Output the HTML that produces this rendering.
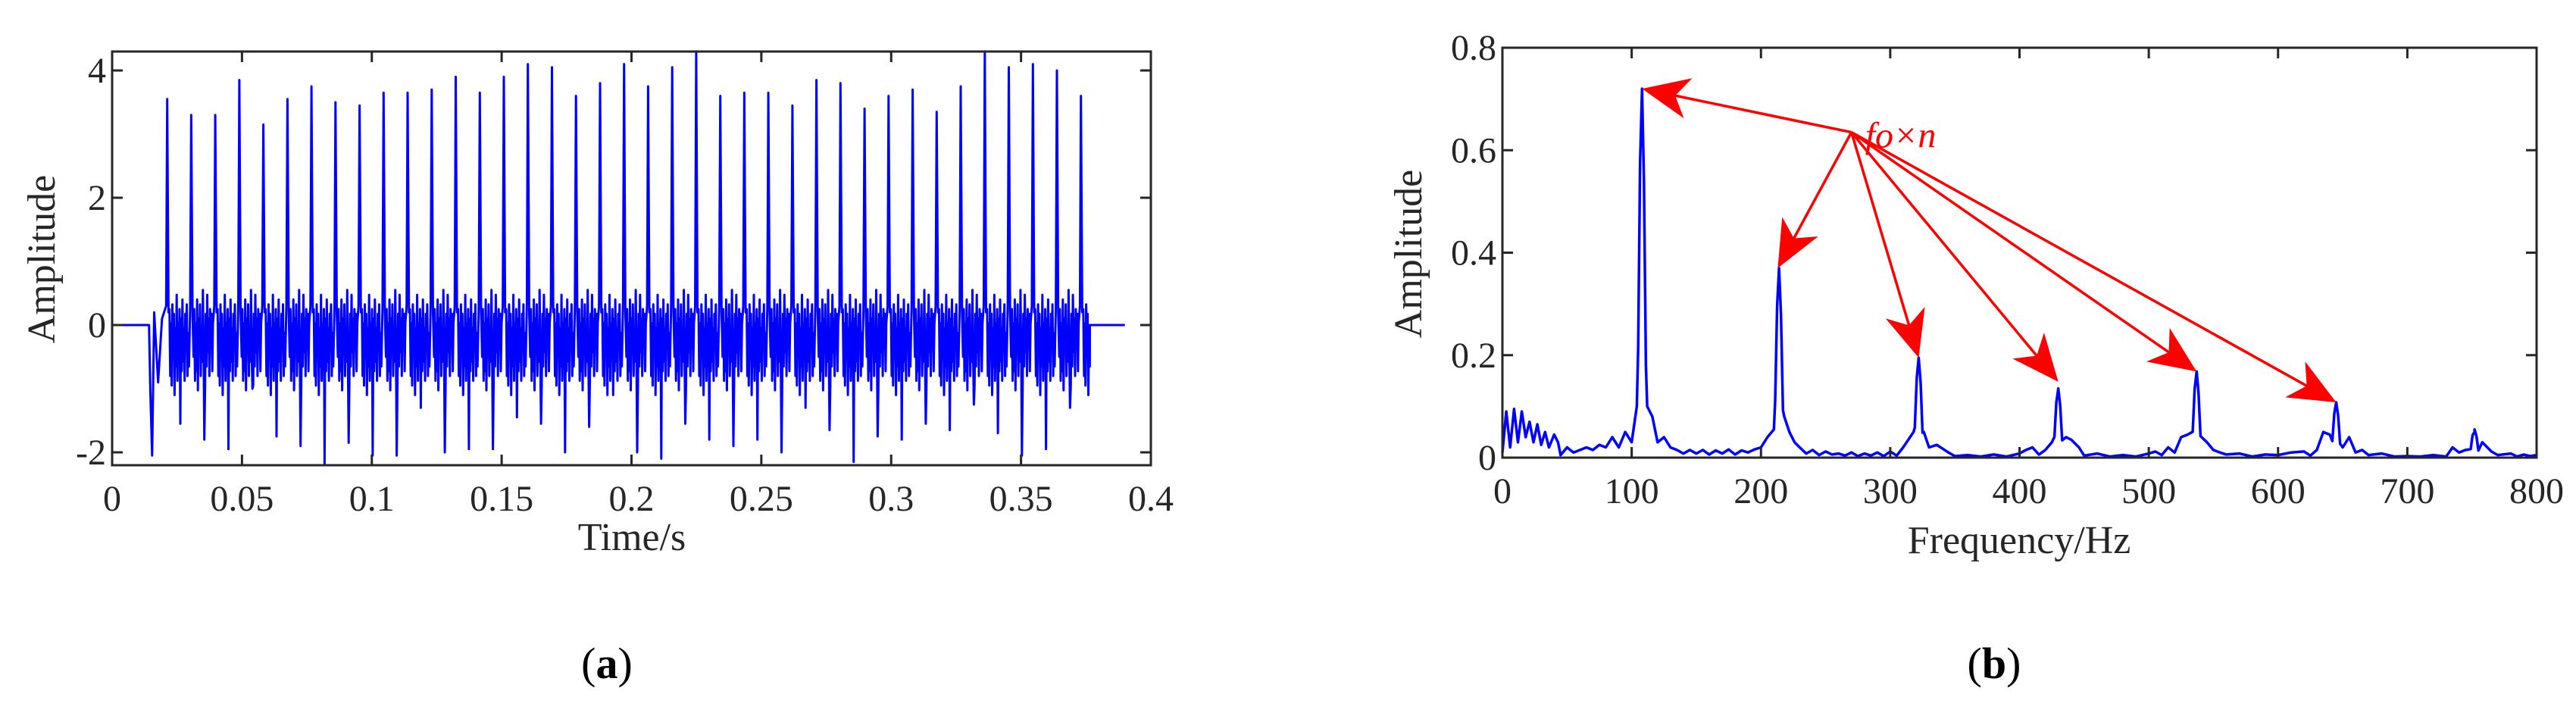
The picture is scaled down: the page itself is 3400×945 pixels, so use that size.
<!DOCTYPE html>
<html><head><meta charset="utf-8"><style>
html,body{margin:0;padding:0;background:#fff;}
svg{display:block;font-family:"Liberation Serif",serif;}
</style></head><body>
<svg id="fig" width="3400" height="945" viewBox="0 0 3400 945" xmlns="http://www.w3.org/2000/svg">
<g id="chartA"></g>
<g id="chartB"></g>
<text x="801" y="895" font-size="58" text-anchor="middle">(<tspan font-weight="bold">a</tspan>)</text>
<text x="2632" y="895" font-size="58" text-anchor="middle">(<tspan font-weight="bold">b</tspan>)</text>
</svg>
<script>
// ---- Chart A data ----
const aXTicks=[0,0.05,0.1,0.15,0.2,0.25,0.3,0.35,0.4];
const aXTickLabels=["0","0.05","0.1","0.15","0.2","0.25","0.3","0.35","0.4"];
const aYTicks=[-2,0,2,4];
const aYTickLabels=["-2","0","2","4"];
const aStart=0.0142, aEnd=0.3765, aFirstSpike=0.0212, aPeriod=0.00926;
const aPeaks=[3.55,3.3,3.3,3.85,3.15,3.55,3.75,3.5,3.45,3.65,3.65,3.7,3.9,3.65,3.9,4.1,4.05,3.6,3.8,4.1,3.75,4.05,4.3,3.6,3.65,3.65,3.45,3.85,3.8,3.4,3.6,3.7,3.35,3.75,4.3,4.05,4.1,4.0,3.6];
const aTroughs=[-2.05,-1.55,-1.8,-1.95,-1.0,-1.75,-1.9,-2.2,-1.85,-2.05,-2.05,-1.3,-2.0,-1.95,-1.95,-1.45,-1.55,-2.0,-1.6,-1.1,-2.0,-2.1,-1.55,-1.8,-1.9,-1.8,-2.0,-1.3,-1.65,-2.15,-1.75,-1.8,-1.55,-1.65,-1.25,-1.7,-2.05,-1.95,-1.3];
const aNoise=[0.6,-0.8,0.3,-1.0,0.7,-0.4,0.5,-1.2,0.2,-0.6,0.9,-0.9,0.3,-0.3,0.6,-1.0,0.4,-0.7,0.8,-0.5,0.2,-0.9,0.5,-0.2,0.7,-0.8,0.1,-0.6];
const aNoise2=[-0.4,0.6,-0.9,0.3,-0.7,0.8,-1.1,0.4,-0.3,0.7,-0.8,0.2,-0.5,1.0,-0.4,0.3,-1.0,0.5,-0.6,0.9,-0.3,0.4,-0.8,0.6,-0.2,0.5,-0.7,0.3];

// ---- Chart B data ----
const bXTicks=[0,100,200,300,400,500,600,700,800];
const bXTickLabels=["0","100","200","300","400","500","600","700","800"];
const bYTicks=[0,0.2,0.4,0.6,0.8];
const bYTickLabels=["0","0.2","0.4","0.6","0.8"];
const bBaseFreq=[0,3,6,9,12,15,18,21,24,27,30,33,36,40,43,45,50,55,60,65,70,75,80,85,90,95,100,104,112,116,120,125,130,135,140,145,150,155,160,165,170,175,180,185,190,195,200,205,210,218,222,226,230,235,240,245,250,255,260,265,270,275,280,285,290,295,300,305,310,318,326,330,336,345,350,360,370,380,390,400,405,410,415,420,425,436,440,446,450,460,470,480,490,500,505,510,515,520,525,530,545,550,555,560,570,580,590,600,610,620,625,630,635,640,650,655,660,665,670,680,690,700,710,720,730,735,740,745,752,758,765,770,780,785,790,795,800];
const bBaseAmp=[0.01,0.09,0.02,0.095,0.03,0.09,0.04,0.07,0.03,0.065,0.025,0.05,0.02,0.045,0.03,0.005,0.02,0.01,0.015,0.02,0.015,0.025,0.02,0.04,0.02,0.05,0.03,0.1,0.1,0.08,0.03,0.04,0.02,0.015,0.008,0.015,0.008,0.015,0.006,0.014,0.008,0.016,0.006,0.014,0.01,0.016,0.02,0.04,0.055,0.08,0.05,0.03,0.02,0.008,0.015,0.005,0.012,0.006,0.008,0.004,0.01,0.003,0.008,0.004,0.01,0.003,0.012,0.004,0.02,0.05,0.05,0.02,0.025,0.01,0.003,0.005,0.002,0.006,0.002,0.008,0.015,0.02,0.006,0.015,0.03,0.04,0.035,0.02,0.004,0.008,0.002,0.005,0.002,0.008,0.012,0.005,0.02,0.01,0.04,0.045,0.03,0.015,0.01,0.006,0.008,0.002,0.006,0.005,0.01,0.012,0.004,0.015,0.05,0.045,0.02,0.04,0.01,0.015,0.005,0.008,0.002,0.003,0.002,0.005,0.002,0.02,0.01,0.015,0.05,0.03,0.012,0.005,0.008,0.002,0.006,0.003,0.005];
const bPeakFreq=[108,214,322,430,537,645,752];
const bPeakAmp=[0.72,0.37,0.195,0.135,0.168,0.108,0.055];
const arrowOrigin=[270,0.635];
const arrowTargetFreq=[108,213,322,430,537,645];
const arrowTargetAmp=[0.72,0.37,0.195,0.148,0.168,0.108];

const NS="http://www.w3.org/2000/svg";
function mk(tag,attrs,parent){const e=document.createElementNS(NS,tag);for(const k in attrs)e.setAttribute(k,attrs[k]);parent.appendChild(e);return e;}

function axes(g,L,R,T,B,xs,ys,xT,xL,yT,yL,pre){
  for(let i=0;i<xT.length;i++){const x=xs(xT[i]);
    const t1=mk('line',{x1:x,x2:x,y1:B,y2:B-14,stroke:'#262626','stroke-width':3},g);
    
    
    const t2=mk('line',{x1:x,x2:x,y1:T,y2:T+14,stroke:'#262626','stroke-width':3},g);
    
    
    const tx=mk('text',{x:x,y:B+60,'font-size':48,'text-anchor':'middle',fill:'#262626'},g);tx.textContent=xL[i];
    
    
  }
  for(let i=0;i<yT.length;i++){const y=ys(yT[i]);
    const t1=mk('line',{x1:L,x2:L+14,y1:y,y2:y,stroke:'#262626','stroke-width':3},g);
    
    
    const t2=mk('line',{x1:R,x2:R-14,y1:y,y2:y,stroke:'#262626','stroke-width':3},g);
    
    
    const tx=mk('text',{x:L-8,y:y+16,'font-size':48,'text-anchor':'end',fill:'#262626'},g);tx.textContent=yL[i];
    
    
  }
}

// ---- Chart A ----
(function(){
  const g=document.getElementById('chartA');
  const L=148,R=1519,T=68,B=614;
  const xs=v=>L+(v-0)/(0.4-0)*(R-L);
  const ys=v=>429-v*84;
  const pts=[[0,0],[aStart,0]];
  const n=aPeaks.length, sub=aNoise.length;
  pts.push([aStart+0.0005,aTroughs[0]*0.5]);
  pts.push([aStart+0.0012,aTroughs[0]]);
  pts.push([aStart+0.0020,0.2]);
  pts.push([aStart+0.0035,-0.9]);
  pts.push([aStart+0.0050,0.1]);
  for(let k=0;k<n;k++){
    const t0=aFirstSpike+k*aPeriod;
    pts.push([t0-0.0004,0.3]);
    pts.push([t0,aPeaks[k]]);
    pts.push([t0+0.0005,0.2]);
    const tr=(k+1<n)?aTroughs[k+1]:-0.6;
    for(let j=0;j<sub;j++){
      const t=t0+0.0009+j*(aPeriod-0.0015)/sub;
      if(t>aEnd) break;
      let v=(k%2?aNoise2[j]:aNoise[j])*0.75-0.2;
      if(j===Math.floor(sub*0.55)) v=tr;
      pts.push([t,v]);
    }
  }
  pts.push([aEnd,0]);pts.push([0.39,0]);
  const p=mk('polyline',{points:pts.map(q=>xs(q[0]).toFixed(1)+','+ys(q[1]).toFixed(1)).join(' '),fill:'none',stroke:'#0000ff','stroke-width':3,'stroke-linejoin':'round'},g);
  
  
  const box=mk('rect',{x:L,y:T,width:R-L,height:B-T,fill:'none',stroke:'#262626','stroke-width':3},g);
  
  
  axes(g,L,R,T,B,xs,ys,aXTicks,aXTickLabels,aYTicks,aYTickLabels,'a-');
  const xt=mk('text',{x:834,y:726,'font-size':52,'text-anchor':'middle',fill:'#262626'},g);xt.textContent='Time/s';
  
  
  const yt=mk('text',{x:0,y:0,'font-size':52,'text-anchor':'middle',fill:'#262626',transform:'translate(72,342) rotate(-90)'},g);yt.textContent='Amplitude';
  
  
})();

// ---- Chart B ----
(function(){
  const g=document.getElementById('chartB');
  const L=1983,R=3348,T=63,B=604;
  const xs=v=>L+v/800*(R-L);
  const ys=v=>B-v/0.8*(B-T);
  let pts=[];
  for(let i=0;i<bBaseFreq.length;i++) pts.push([bBaseFreq[i],bBaseAmp[i]]);
  for(let i=0;i<bPeakFreq.length;i++){
    const f=bPeakFreq[i],a=bPeakAmp[i];
    pts.push([f-3,a*0.3]);pts.push([f-1.5,a*0.8]);pts.push([f,a]);pts.push([f+1.5,a*0.75]);pts.push([f+3,a*0.25]);
  }
  pts.sort((p,q)=>p[0]-q[0]);
  const p=mk('polyline',{points:pts.map(q=>xs(q[0]).toFixed(1)+','+ys(q[1]).toFixed(1)).join(' '),fill:'none',stroke:'#0000ff','stroke-width':3.5,'stroke-linejoin':'round'},g);
  
  
  const box=mk('rect',{x:L,y:T,width:R-L,height:B-T,fill:'none',stroke:'#262626','stroke-width':3},g);
  
  
  axes(g,L,R,T,B,xs,ys,bXTicks,bXTickLabels,bYTicks,bYTickLabels,'b-');
  const ox=xs(arrowOrigin[0]),oy=ys(arrowOrigin[1]);
  for(let i=0;i<arrowTargetFreq.length;i++){
    const tx=xs(arrowTargetFreq[i]),ty=ys(arrowTargetAmp[i]);
    const dx=tx-ox,dy=ty-oy,len=Math.hypot(dx,dy),ux=dx/len,uy=dy/len,nx=-uy,ny=ux;
    const hl=62,hw=27;
    const bx=tx-ux*hl,by=ty-uy*hl;
    const l=mk('line',{x1:ox,y1:oy,x2:tx-ux*40,y2:ty-uy*40,stroke:'#ff0000','stroke-width':3.5},g);
    
    
    const h=mk('polygon',{points:`${tx},${ty} ${bx+nx*hw},${by+ny*hw} ${tx-ux*hl*0.72},${ty-uy*hl*0.72} ${bx-nx*hw},${by-ny*hw}`,fill:'#ff0000'},g);
    
    
  }
  const lab=mk('text',{x:ox+18,y:oy+20,'font-size':48,'font-style':'italic',fill:'#ff0000'},g);lab.textContent='fo×n';
  
  
  const xt=mk('text',{x:2665,y:730,'font-size':52,'text-anchor':'middle',fill:'#262626'},g);xt.textContent='Frequency/Hz';
  
  
  const yt=mk('text',{x:0,y:0,'font-size':52,'text-anchor':'middle',fill:'#262626',transform:'translate(1876,335) rotate(-90)'},g);yt.textContent='Amplitude';
  
  
})();
</script>
</body></html>
